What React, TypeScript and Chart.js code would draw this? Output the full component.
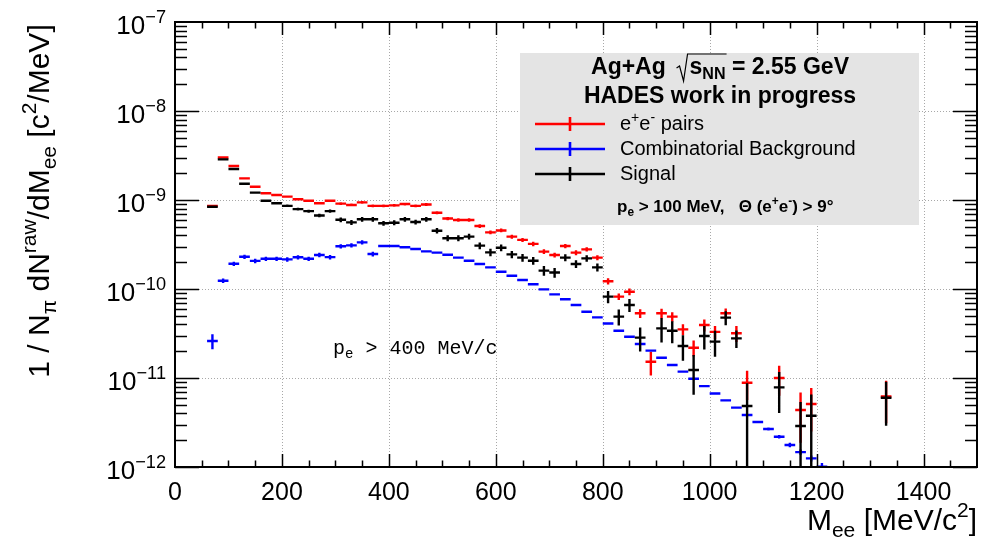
import { useEffect, useRef } from "react";
import { Chart, registerables } from "chart.js";

Chart.register(...registerables);

// ---------------- data ----------------
const massBins = [
  70, 90, 110, 130, 150, 170, 190, 210, 230, 250,
  270, 290, 310, 330, 350, 370, 390, 410, 430, 450,
  470, 490, 510, 530, 550, 570, 590, 610, 630, 650,
  670, 690, 710, 730, 750, 770, 790, 810, 830, 850,
  870, 890, 910, 930, 950, 970, 990, 1010, 1030, 1050,
  1070, 1090, 1110, 1130, 1150, 1170, 1190, 1210, 1330,
];
const BIN_WIDTH = 20;

const pairsValues = [
  8.6e-10, 3.0e-9, 2.41e-9, 1.75e-9, 1.41e-9, 1.19e-9, 1.14e-9, 1.09e-9, 1.02e-9, 9.8e-10,
  9.2e-10, 9.8e-10, 9.1e-10, 8.8e-10, 9.4e-10, 8.6e-10, 8.6e-10, 8.7e-10, 9.0e-10, 8.6e-10,
  8.9e-10, 7.2e-10, 6.2e-10, 5.96e-10, 5.96e-10, 5.1e-10, 4.33e-10, 4.55e-10, 3.88e-10, 3.56e-10,
  3.21e-10, 2.63e-10, 2.41e-10, 3.04e-10, 2.56e-10, 2.79e-10, 2.25e-10, 1.22e-10, 8.2e-11, 9.3e-11,
  5.33e-11, 1.52e-11, 5.33e-11, 4.89e-11, 3.52e-11, 2.19e-11, 3.94e-11, 3.3e-11, 5.33e-11, 3.18e-11,
  8.85e-12, null, null, 1.0e-11, null, 4.37e-12, 5.1e-12, null, 6.2e-12,
];
const pairsErrors = [
  2.0e-11, 4.0e-11, 3.5e-11, 3.0e-11, 2.6e-11, 2.4e-11, 2.4e-11, 2.4e-11, 2.4e-11, 2.4e-11,
  2.4e-11, 2.6e-11, 3.2e-11, 3.2e-11, 3.3e-11, 3.2e-11, 3.2e-11, 3.2e-11, 3.3e-11, 3.2e-11,
  3.3e-11, 2.9e-11, 2.6e-11, 2.6e-11, 2.6e-11, 2.4e-11, 2.2e-11, 2.2e-11, 2.0e-11, 1.9e-11,
  1.8e-11, 1.6e-11, 1.5e-11, 1.7e-11, 1.6e-11, 1.6e-11, 1.5e-11, 1.0e-11, 7.0e-12, 8.0e-12,
  6.0e-12, 4.5e-12, 6.5e-12, 6.0e-12, 5.0e-12, 4.5e-12, 6.0e-12, 5.5e-12, 7.0e-12, 6.5e-12,
  3.2e-12, null, null, 3.7e-12, null, 2.5e-12, 2.6e-12, null, 3.1e-12,
];

const backgroundValues = [
  2.6e-11, 1.24e-10, 1.92e-10, 2.3e-10, 2.07e-10, 2.19e-10, 2.19e-10, 2.15e-10, 2.27e-10, 2.19e-10,
  2.41e-10, 2.28e-10, 3.02e-10, 3.09e-10, 3.34e-10, 2.47e-10, 3.04e-10, 3.04e-10, 2.94e-10, 2.81e-10,
  2.65e-10, 2.56e-10, 2.43e-10, 2.25e-10, 2.08e-10, 1.91e-10, 1.75e-10, 1.56e-10, 1.41e-10, 1.26e-10,
  1.13e-10, 9.9e-11, 8.7e-11, 7.66e-11, 6.6e-11, 5.56e-11, 4.8e-11, 4.1e-11, 3.4e-11, 2.91e-11,
  2.41e-11, 2.03e-11, 1.69e-11, 1.4e-11, 1.18e-11, 9.8e-12, 8.1e-12, 6.7e-12, 5.6e-12, 4.65e-12,
  3.84e-12, 3.2e-12, 2.67e-12, 2.19e-12, 1.77e-12, 1.47e-12, 1.25e-12, 1.01e-12, null,
];
const backgroundErrors = [
  5.0e-12, 7.0e-12, 1.1e-11, 1.3e-11, 1.2e-11, 1.2e-11, 1.2e-11, 1.2e-11, 1.3e-11, 1.2e-11,
  1.4e-11, 1.3e-11, 1.7e-11, 1.7e-11, 1.8e-11, 1.5e-11, 3.0e-12, 3.0e-12, 2.9e-12, 2.8e-12,
  2.6e-12, 2.5e-12, 2.4e-12, 2.2e-12, 2.1e-12, 1.9e-12, 1.7e-12, 1.5e-12, 1.4e-12, 1.2e-12,
  1.1e-12, 1.0e-12, 9e-13, 8e-13, 7e-13, 6e-13, 5e-13, 4e-13, 3e-13, 3e-13,
  2e-13, 2e-13, 2e-13, 1e-13, 1e-13, 1e-13, 1e-13, 1e-13, 1e-13, 1e-13,
  1e-13, 1e-13, 1e-13, 1e-13, 1e-13, 1e-13, 1e-13, 1e-13, null,
];

const signalValues = [
  8.4e-10, 2.86e-9, 2.23e-9, 1.52e-9, 1.21e-9, 9.8e-10, 9.2e-10, 8.6e-10, 7.9e-10, 7.5e-10,
  6.7e-10, 7.5e-10, 6.0e-10, 5.6e-10, 6.07e-10, 6.07e-10, 5.47e-10, 5.56e-10, 6.07e-10, 5.66e-10,
  6.07e-10, 4.52e-10, 3.72e-10, 3.72e-10, 3.88e-10, 3.07e-10, 2.58e-10, 2.91e-10, 2.45e-10, 2.25e-10,
  2.08e-10, 1.61e-10, 1.53e-10, 2.25e-10, 1.91e-10, 2.21e-10, 1.75e-10, 8.2e-11, 4.89e-11, 6.6e-11,
  2.84e-11, null, 3.61e-11, 3.4e-11, 2.29e-11, 1.23e-11, 2.96e-11, 2.56e-11, 4.77e-11, 2.79e-11,
  4.85e-12, null, null, 7.85e-12, null, 2.89e-12, 3.77e-12, null, 6.0e-12,
];
const signalErrors = [
  2.0e-11, 4.0e-11, 3.5e-11, 3.1e-11, 2.9e-11, 2.8e-11, 2.8e-11, 2.8e-11, 2.9e-11, 2.9e-11,
  2.9e-11, 3.0e-11, 3.6e-11, 3.6e-11, 3.7e-11, 3.6e-11, 3.5e-11, 3.5e-11, 3.6e-11, 3.5e-11,
  3.6e-11, 3.2e-11, 2.9e-11, 2.9e-11, 2.9e-11, 2.7e-11, 2.5e-11, 2.5e-11, 2.3e-11, 2.2e-11,
  2.1e-11, 2.0e-11, 1.9e-11, 2.0e-11, 1.9e-11, 1.9e-11, 1.8e-11, 1.3e-11, 1.0e-11, 1.1e-11,
  8.5e-12, null, 1.1e-11, 9.5e-12, 7.3e-12, 5.8e-12, 8.7e-12, 8.3e-12, 8.6e-12, 6.2e-12,
  3.9e-12, null, null, 3.8e-12, null, 2.5e-12, 2.75e-12, null, 3.1e-12,
];

const xTickValues = [0, 200, 400, 600, 800, 1000, 1200, 1400];
const yTickExponents = [-7, -8, -9, -10, -11, -12];

// ---------------- helpers ----------------
const SANS = '"Liberation Sans", Arial, Helvetica, sans-serif';
const MONO = '"Liberation Mono", "DejaVu Sans Mono", monospace';

type Seg = { t: string; k?: "sup" | "sub" };

function fontFor(seg: Seg, size: number, weight: string, family: string) {
  const s = seg.k ? size * 0.7 : size;
  return `${weight} ${s}px ${family}`;
}

function richWidth(ctx: CanvasRenderingContext2D, segs: Seg[], size: number, weight: string, family: string) {
  let w = 0;
  for (const s of segs) {
    ctx.font = fontFor(s, size, weight, family);
    w += ctx.measureText(s.t).width;
  }
  return w;
}

function drawRich(
  ctx: CanvasRenderingContext2D,
  segs: Seg[],
  x: number,
  y: number,
  size: number,
  weight: string,
  family: string,
  align: "left" | "center" | "right"
) {
  const total = richWidth(ctx, segs, size, weight, family);
  let cx = align === "left" ? x : align === "center" ? x - total / 2 : x - total;
  ctx.textAlign = "left";
  ctx.textBaseline = "alphabetic";
  for (const s of segs) {
    ctx.font = fontFor(s, size, weight, family);
    const dy = s.k === "sup" ? -size * 0.42 : s.k === "sub" ? size * 0.22 : 0;
    ctx.fillText(s.t, cx, y + dy);
    cx += ctx.measureText(s.t).width;
  }
  return total;
}

function buildSeries(values: (number | null)[], errors: (number | null)[]) {
  const pts: { x: number; y: number }[] = [];
  const errs: number[] = [];
  values.forEach((v, i) => {
    if (v != null) {
      pts.push({ x: massBins[i], y: v });
      errs.push(errors[i] ?? 0);
    }
  });
  return { pts, errs };
}

const hadesPlugin = {
  id: "hadesStyle",
  beforeDatasetsDraw(chart: any) {
    const { ctx, chartArea: a, scales } = chart;
    const xs = scales.x;
    const ys = scales.y;
    ctx.save();
    ctx.strokeStyle = "#a8a8a8";
    ctx.lineWidth = 1;
    ctx.setLineDash([1, 2]);
    ctx.beginPath();
    for (const v of xTickValues) {
      if (v === 0) continue;
      const px = Math.round(xs.getPixelForValue(v)) + 0.5;
      ctx.moveTo(px, a.top);
      ctx.lineTo(px, a.bottom);
    }
    for (const e of yTickExponents) {
      const py = Math.round(ys.getPixelForValue(Math.pow(10, e))) + 0.5;
      if (py <= a.top + 1 || py >= a.bottom - 1) continue;
      ctx.moveTo(a.left, py);
      ctx.lineTo(a.right, py);
    }
    ctx.stroke();
    ctx.restore();
  },
  afterDatasetsDraw(chart: any) {
    const { ctx, chartArea: a, scales } = chart;
    const xs = scales.x;
    const ys = scales.y;
    ctx.save();
    ctx.beginPath();
    ctx.rect(a.left, a.top, a.right - a.left, a.bottom - a.top);
    ctx.clip();
    chart.data.datasets.forEach((ds: any) => {
      ctx.strokeStyle = ds.borderColor;
      ctx.lineWidth = 2.4;
      ctx.lineCap = "butt";
      ctx.beginPath();
      ds.data.forEach((p: any, i: number) => {
        const err = ds.errors[i] || 0;
        const y = ys.getPixelForValue(p.y);
        const x0 = xs.getPixelForValue(p.x - BIN_WIDTH / 2);
        const x1 = xs.getPixelForValue(p.x + BIN_WIDTH / 2);
        const xc = xs.getPixelForValue(p.x);
        const hi = ys.getPixelForValue(p.y + err);
        const lo = p.y - err > 0 ? ys.getPixelForValue(p.y - err) : a.bottom + 5;
        ctx.moveTo(x0, y);
        ctx.lineTo(x1, y);
        if (lo - hi > 1) {
          ctx.moveTo(xc, hi);
          ctx.lineTo(xc, lo);
        }
      });
      ctx.stroke();
    });
    ctx.restore();
  },
  afterDraw(chart: any) {
    const { ctx, chartArea: a, scales } = chart;
    const xs = scales.x;
    const ys = scales.y;
    ctx.save();
    ctx.fillStyle = "#000";
    ctx.strokeStyle = "#000";

    // ticks
    ctx.lineWidth = 1.5;
    ctx.beginPath();
    for (let v = 50; v < 1500; v += 50) {
      const px = Math.round(xs.getPixelForValue(v)) + 0.5;
      const len = v % 200 === 0 ? 13 : 6.5;
      ctx.moveTo(px, a.bottom);
      ctx.lineTo(px, a.bottom - len);
      ctx.moveTo(px, a.top);
      ctx.lineTo(px, a.top + len);
    }
    for (let n = -12; n <= -8; n++) {
      for (let k = 1; k <= 9; k++) {
        const v = k * Math.pow(10, n);
        const py = Math.round(ys.getPixelForValue(v)) + 0.5;
        const len = k === 1 ? 24 : 12;
        ctx.moveTo(a.left, py);
        ctx.lineTo(a.left + len, py);
        ctx.moveTo(a.right, py);
        ctx.lineTo(a.right - len, py);
      }
    }
    ctx.stroke();

    // frame
    ctx.lineWidth = 2;
    ctx.strokeRect(a.left, a.top, a.right - a.left, a.bottom - a.top);

    // x tick labels
    ctx.font = `25px ${SANS}`;
    ctx.textAlign = "center";
    ctx.textBaseline = "alphabetic";
    for (const v of xTickValues) {
      ctx.fillText(String(v), xs.getPixelForValue(v), a.bottom + 33);
    }
    // y tick labels
    for (const e of yTickExponents) {
      const py = ys.getPixelForValue(Math.pow(10, e));
      drawRich(ctx, [{ t: "10" }, { t: "\u2212" + Math.abs(e), k: "sup" }], a.left - 9, py + 12, 26, "normal", SANS, "right");
    }

    // axis titles
    drawRich(
      ctx,
      [{ t: "M" }, { t: "ee", k: "sub" }, { t: " [MeV/c" }, { t: "2", k: "sup" }, { t: "]" }],
      a.right,
      530,
      30,
      "normal",
      SANS,
      "right"
    );
    ctx.save();
    ctx.translate(49, 201);
    ctx.rotate(-Math.PI / 2);
    drawRich(
      ctx,
      [
        { t: "1 / N" },
        { t: "\u03c0", k: "sub" },
        { t: " dN" },
        { t: "raw", k: "sup" },
        { t: "/dM" },
        { t: "ee", k: "sub" },
        { t: " [c" },
        { t: "2", k: "sup" },
        { t: "/MeV]" },
      ],
      0,
      0,
      30,
      "normal",
      SANS,
      "center"
    );
    ctx.restore();

    // annotation
    drawRich(ctx, [{ t: "p" }, { t: "e", k: "sub" }, { t: " > 400 MeV/c" }], 333, 354, 20, "normal", MONO, "left");

    // legend box
    ctx.fillStyle = "#e4e4e4";
    ctx.fillRect(520, 53, 399, 172);
    ctx.fillStyle = "#000";

    // title line 1 with sqrt
    const tSize = 23;
    ctx.font = `bold ${tSize}px ${SANS}`;
    const wA = ctx.measureText("Ag+Ag  ").width;
    const wS = ctx.measureText("s").width;
    ctx.font = `bold ${tSize * 0.7}px ${SANS}`;
    const wNN = ctx.measureText("NN").width;
    ctx.font = `bold ${tSize}px ${SANS}`;
    const wRest = ctx.measureText(" = 2.55 GeV").width;
    const radW = 11;
    const total = wA + radW + wS + wNN + wRest;
    let cx = 720 - total / 2;
    const base1 = 74;
    ctx.textAlign = "left";
    ctx.fillText("Ag+Ag  ", cx, base1);
    cx += wA;
    ctx.lineWidth = 1.2;
    ctx.beginPath();
    ctx.moveTo(cx - 2, base1 - 6);
    ctx.lineTo(cx + 1, base1 - 8);
    ctx.lineTo(cx + 5, base1 + 7);
    ctx.lineTo(cx + 9, base1 - 20);
    ctx.lineTo(cx + radW + wS + wNN + 1, base1 - 20);
    ctx.stroke();
    cx += radW;
    ctx.fillText("s", cx, base1);
    cx += wS;
    ctx.font = `bold ${tSize * 0.7}px ${SANS}`;
    ctx.fillText("NN", cx, base1 + tSize * 0.22);
    cx += wNN;
    ctx.font = `bold ${tSize}px ${SANS}`;
    ctx.fillText(" = 2.55 GeV", cx, base1);

    ctx.textAlign = "center";
    ctx.fillText("HADES work in progress", 720, 103);

    // legend entries
    const entries: { segs: Seg[]; color: string; y: number }[] = [
      { segs: [{ t: "e" }, { t: "+", k: "sup" }, { t: "e" }, { t: "-", k: "sup" }, { t: " pairs" }], color: "#ff0000", y: 130 },
      { segs: [{ t: "Combinatorial Background" }], color: "#0000ff", y: 155 },
      { segs: [{ t: "Signal" }], color: "#000000", y: 180 },
    ];
    for (const en of entries) {
      const ly = en.y - 6;
      ctx.strokeStyle = en.color;
      ctx.lineWidth = 2.6;
      ctx.beginPath();
      ctx.moveTo(535, ly);
      ctx.lineTo(605, ly);
      ctx.moveTo(570, ly - 7);
      ctx.lineTo(570, ly + 7);
      ctx.stroke();
      ctx.fillStyle = "#000";
      drawRich(ctx, en.segs, 620, en.y, 20, "normal", SANS, "left");
    }

    drawRich(
      ctx,
      [
        { t: "p" },
        { t: "e", k: "sub" },
        { t: " > 100 MeV,   \u0398 (e" },
        { t: "+", k: "sup" },
        { t: "e" },
        { t: "-", k: "sup" },
        { t: ") > 9\u00b0" },
      ],
      617,
      212,
      17,
      "bold",
      SANS,
      "left"
    );

    ctx.restore();
  },
};

export default function App() {
  const canvasRef = useRef<HTMLCanvasElement | null>(null);

  useEffect(() => {
    document.body.style.margin = "0";
    const canvas = canvasRef.current;
    if (!canvas) return;
    const pairs = buildSeries(pairsValues, pairsErrors);
    const bkg = buildSeries(backgroundValues, backgroundErrors);
    const sig = buildSeries(signalValues, signalErrors);

    const chart = new Chart(canvas, {
      type: "scatter",
      data: {
        datasets: [
          { label: "e+e- pairs", data: pairs.pts, borderColor: "#ff0000", backgroundColor: "#ff0000", errors: pairs.errs } as any,
          { label: "Combinatorial Background", data: bkg.pts, borderColor: "#0000ff", backgroundColor: "#0000ff", errors: bkg.errs } as any,
          { label: "Signal", data: sig.pts, borderColor: "#000000", backgroundColor: "#000000", errors: sig.errs } as any,
        ],
      },
      options: {
        animation: false,
        responsive: false,
        devicePixelRatio: 1,
        layout: { padding: { left: 175, right: 4, top: 22, bottom: 71 } },
        elements: { point: { radius: 0, hoverRadius: 0 } },
        scales: {
          x: { type: "linear", min: 0, max: 1500, display: false },
          y: { type: "logarithmic", min: 1e-12, max: 1e-7, display: false },
        },
        plugins: { legend: { display: false }, tooltip: { enabled: false } },
        events: [],
      },
      plugins: [hadesPlugin],
    });
    return () => chart.destroy();
  }, []);

  return (
    <div style={{ position: "fixed", left: 0, top: 0, width: 981, height: 538, background: "#fff" }}>
      <canvas ref={canvasRef} width={981} height={538} style={{ display: "block", width: 981, height: 538 }} />
    </div>
  );
}
